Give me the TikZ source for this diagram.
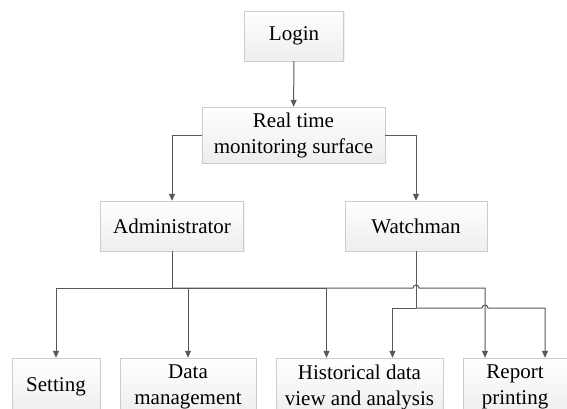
\documentclass[tikz,border=0pt]{standalone}
\usepackage{fontspec}
\setmainfont{Liberation Serif}
\usetikzlibrary{arrows.meta}
\usetikzlibrary{shadows}

\tikzset{
  box/.style={draw=gray!40, top color=white, bottom color=gray!14, align=center, inner sep=0pt,
    font=\fontsize{21}{26}\selectfont,
    drop shadow={opacity=0.12,shadow xshift=1pt,shadow yshift=-1pt}},
  link/.style={draw=black!65, line width=1pt},
  arr/.style={link, -{Triangle[length=7pt,width=6pt]}},
}

\begin{document}
\begin{tikzpicture}[x=1pt,y=-1pt]
 \useasboundingbox (0,0) rectangle (567,409);
 \clip (0,0) rectangle (567,409);
 % boxes
 \node[box,minimum width=99pt,minimum height=50pt] (login) at (294,36) {Login};
 \node[box,minimum width=183pt,minimum height=56pt] (rtm) at (293.5,135) {Real time\\monitoring surface};
 \node[box,minimum width=143pt,minimum height=50pt] (admin) at (172,226) {Administrator};
 \node[box,minimum width=142pt,minimum height=50pt] (watch) at (416,226) {Watchman};
 \node[box,minimum width=88pt,minimum height=58pt] (setting) at (56,387) {Setting};
 \node[box,minimum width=136pt,minimum height=58pt] (datamgmt) at (188,387) {Data\\management};
 \node[box,minimum width=167pt,minimum height=58pt] (hist) at (359.5,387) {Historical data\\view and analysis};
 \node[box,minimum width=104pt,minimum height=58pt] (report) at (515,387) {Report\\printing};
 % buses
 \coordinate (busA) at (admin.south |- 0,288);
 \coordinate (busW) at (watch.south |- 0,308);
 % connectors
 \draw[arr] (login) -- (rtm);
 \draw[arr] (rtm.west) -| (admin.north);
 \draw[arr] (rtm.east) -| (watch.north);
 \draw[link] (admin.south) -- (busA);
 \draw[arr] (busA) -| (setting.north);
 \draw[arr] (busA) -| (datamgmt.north);
 \draw[arr] (busA) -| ([xshift=-33pt]hist.north);
 \draw[arr] (busA) -- (413,288) arc[start angle=180,end angle=360,radius=3] -| ([xshift=-30pt]report.north);
 \draw[link] (watch.south) -- (busW);
 \draw[arr] (busW) -| ([xshift=33pt]hist.north);
 \draw[arr] (busW) -- (482,308) arc[start angle=180,end angle=360,radius=3] -| ([xshift=30pt]report.north);
\end{tikzpicture}
\end{document}
